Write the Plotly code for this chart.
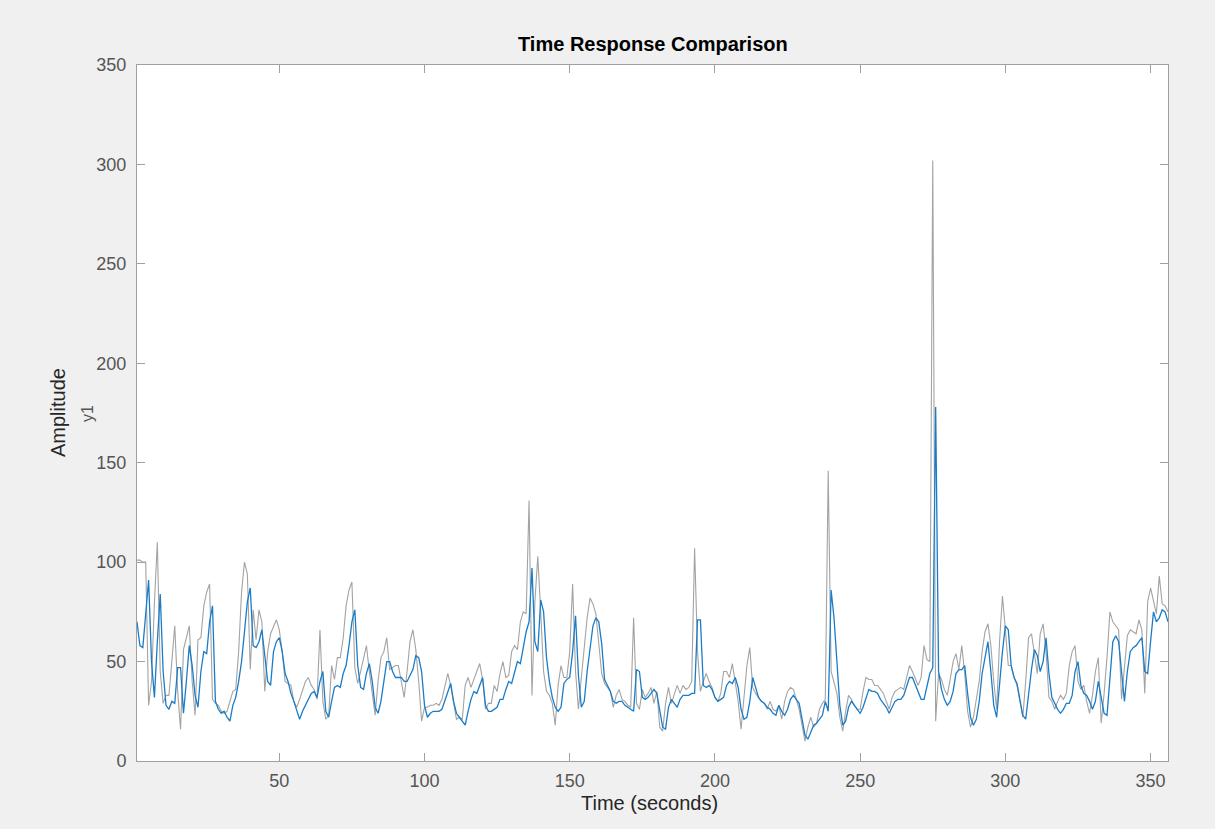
import plotly.graph_objects as go

time_s = list(range(1, 357))

measured = [
    101, 101, 100, 100, 28, 40, 80, 110, 45, 29,
    33, 33, 50, 68, 35, 16, 56, 62, 68, 40,
    23, 61, 62, 78, 85, 89, 31, 29, 28, 25,
    24, 25, 30, 35, 36, 55, 85, 100, 94, 46,
    76, 61, 76, 70, 35, 55, 64, 68, 71, 66,
    55, 40, 39, 38, 30, 27, 31, 36, 40, 42,
    38, 36, 31, 66, 30, 21, 23, 48, 41, 52,
    52, 62, 78, 86, 90, 47, 39, 45, 52, 58,
    45, 33, 23, 40, 52, 55, 62, 46, 47, 48,
    48, 40, 32, 45, 60, 66, 56, 40, 20, 27,
    27, 28, 28, 29, 28, 31, 38, 44, 38, 30,
    21, 22, 21, 38, 42, 37, 41, 45, 49, 41,
    26, 29, 29, 38, 35, 44, 50, 42, 43, 55,
    58, 56, 70, 75, 74, 131, 33, 80, 103, 75,
    45, 35, 33, 29, 18, 38, 48, 42, 42, 55,
    89, 45, 26, 42, 58, 72, 82, 79, 74, 60,
    44, 39, 37, 35, 27, 33, 36, 31, 30, 28,
    27, 72, 29, 26, 36, 32, 34, 37, 29, 35,
    17, 15, 29, 37, 29, 33, 38, 34, 38, 36,
    37, 40, 107, 55, 35, 40, 44, 40, 37, 32,
    30, 34, 45, 45, 42, 49, 40, 30, 16, 33,
    48, 57, 37, 34, 32, 30, 29, 26, 30, 26,
    25, 28, 21, 30, 35, 37, 36, 31, 26, 18,
    10, 17, 22, 17, 19, 26, 29, 31, 146, 45,
    39, 34, 22, 15, 25, 33, 31, 28, 26, 26,
    35, 42, 41, 41, 38, 38, 36, 34, 30, 26,
    32, 35, 36, 37, 36, 42, 48, 45, 41, 38,
    42, 58, 51, 50, 302, 20, 44, 41, 36, 33,
    41, 50, 54, 46, 58, 44, 25, 17, 22, 30,
    40, 55, 65, 69, 58, 40, 26, 60, 83, 66,
    48, 48, 42, 38, 30, 22, 40, 62, 64, 55,
    44, 64, 69, 55, 32, 30, 26, 30, 33, 31,
    34, 48, 55, 58, 40, 36, 38, 30, 24, 33,
    45, 52, 19, 34, 52, 75, 70, 68, 66, 31,
    48, 63, 66, 65, 64, 71, 66, 34, 80, 87,
    80, 74, 93, 79, 78, 75,
]

simulated = [
    70, 58, 57, 75, 91, 50, 32, 60, 84, 45,
    28, 26, 30, 29, 47, 47, 24, 40, 58, 48,
    33, 27, 45, 55, 54, 70, 78, 30, 26, 24,
    25, 22, 20, 28, 32, 40, 50, 65, 80, 87,
    58, 57, 60, 66, 52, 40, 38, 55, 60, 62,
    55, 44, 40, 34, 30, 25, 21, 25, 28, 31,
    34, 35, 32, 40, 45, 25, 22, 30, 37, 38,
    37, 44, 48, 58, 70, 76, 48, 37, 36, 44,
    49, 40, 27, 24, 30, 40, 50, 50, 45, 42,
    42, 42, 40, 40, 43, 46, 53, 52, 45, 28,
    22, 24, 25, 25, 25, 26, 30, 35, 39, 30,
    24, 22, 20, 18, 25, 31, 35, 34, 38, 42,
    28, 25, 25, 26, 27, 31, 31, 36, 40, 39,
    44, 50, 49, 58, 65, 70, 97, 60, 55, 81,
    75, 52, 40, 32, 27, 25, 27, 39, 41, 42,
    55, 73, 43, 27, 30, 45, 58, 68, 72, 70,
    59, 41, 38, 35, 30, 29, 30, 30, 28, 27,
    26, 25, 46, 45, 32, 31, 32, 34, 36, 34,
    25, 17, 16, 27, 31, 29, 27, 31, 33, 33,
    33, 34, 34, 71, 71, 38, 37, 38, 36, 32,
    30, 31, 32, 38, 40, 39, 42, 37, 26, 21,
    22, 30, 42, 37, 32, 30, 29, 27, 26, 24,
    23, 28, 25, 23, 26, 31, 33, 31, 29, 21,
    13, 11, 15, 18, 19, 21, 23, 30, 25, 86,
    72, 50, 28, 18, 20, 27, 30, 28, 26, 24,
    27, 32, 36, 35, 35, 34, 31, 29, 27, 24,
    27, 30, 31, 31, 33, 38, 42, 42, 38, 34,
    31, 31, 38, 44, 47, 178, 45, 36, 31, 28,
    30, 35, 44, 46, 46, 48, 34, 22, 18, 21,
    30, 44, 52, 60, 45, 28, 22, 40, 55, 68,
    66, 48, 42, 39, 30, 23, 21, 35, 46, 56,
    53, 45, 50, 62, 44, 32, 29, 26, 24, 26,
    29, 29, 33, 45, 50, 38, 34, 33, 30, 26,
    30, 40, 32, 24, 23, 40, 60, 63, 60, 45,
    30, 45, 55, 57, 58, 60, 62, 45, 44, 60,
    75, 70, 72, 76, 75, 70,
]

x_ticks = [50, 100, 150, 200, 250, 300, 350]
y_ticks = [0, 50, 100, 150, 200, 250, 300, 350]

FONT = "Liberation Sans, Arial, sans-serif"
AXIS_COLOR = "#a0a0a0"
TICK_FONT = dict(family=FONT, size=18, color="#555555")

fig = go.Figure()
fig.add_trace(go.Scatter(x=time_s, y=measured, mode="lines",
                         line=dict(color="#a3a3a3", width=1.1), name="measured"))
fig.add_trace(go.Scatter(x=time_s, y=simulated, mode="lines",
                         line=dict(color="#1a7cc7", width=1.3), name="simulated"))

fig.update_layout(
    width=1215, height=829,
    paper_bgcolor="#f0f0f0", plot_bgcolor="#ffffff",
    margin=dict(l=137, r=47, t=65, b=68),
    showlegend=False,
    font=dict(family=FONT),
)
fig.update_xaxes(range=[1, 356], tickvals=x_ticks, ticks="inside", ticklen=8,
                 tickcolor=AXIS_COLOR, showline=True, linecolor=AXIS_COLOR, linewidth=1,
                 mirror="ticks", showgrid=False, zeroline=False, tickfont=TICK_FONT,
                 ticklabelstandoff=3)
fig.update_yaxes(range=[0, 350], tickvals=y_ticks, ticks="inside", ticklen=8,
                 tickcolor=AXIS_COLOR, showline=True, linecolor=AXIS_COLOR, linewidth=1,
                 mirror="ticks", showgrid=False, zeroline=False, tickfont=TICK_FONT,
                 ticklabelstandoff=6)

fig.add_annotation(text="<b>Time Response Comparison</b>", xref="paper", yref="paper",
                   x=0.5, y=1.030, xanchor="center", yanchor="middle", showarrow=False,
                   font=dict(family=FONT, size=20, color="#000000"))
fig.add_annotation(text="Time (seconds)", xref="paper", yref="paper",
                   x=0.497, y=-0.0603, xanchor="center", yanchor="middle", showarrow=False,
                   font=dict(family=FONT, size=20, color="#262626"))
fig.add_annotation(text="Amplitude", xref="paper", yref="paper",
                   x=-0.0766, y=0.5, xanchor="center", yanchor="middle", showarrow=False,
                   textangle=-90, font=dict(family=FONT, size=20, color="#262626"))
fig.add_annotation(text="y1", xref="paper", yref="paper",
                   x=-0.0485, y=0.5, xanchor="center", yanchor="middle", showarrow=False,
                   textangle=-90, font=dict(family=FONT, size=16, color="#555555"))

fig.write_html(
    "out.html",
    config={"displayModeBar": False},
    post_script="document.body.style.margin='0';document.body.style.background='#f0f0f0';",
)
